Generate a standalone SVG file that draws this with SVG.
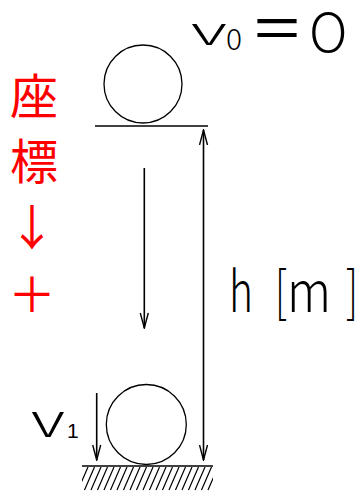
<svg xmlns="http://www.w3.org/2000/svg" width="355" height="494" viewBox="0 0 355 494">
<defs>
<style>
.ln{stroke:#000;stroke-width:1.6;fill:none}
.ci{stroke:#000;stroke-width:1.3;fill:none}
.tx{font-family:"Noto Sans CJK JP","Noto Sans",sans-serif;fill:#000}
.lt{font-family:"Noto Sans CJK JP","Noto Sans",sans-serif;font-weight:300;fill:#000}
.rd{font-family:"Noto Sans CJK JP","Noto Sans",sans-serif;fill:#ff0000}
.ht{stroke:#000;stroke-width:1.2}
</style>
<marker id="ah" viewBox="-16 -5 17 10" refX="0" refY="0" markerWidth="17" markerHeight="10" markerUnits="userSpaceOnUse" orient="auto-start-reverse">
<path d="M-15,-4 L0,0 L-15,4" fill="none" stroke="#000" stroke-width="1.4"/>
</marker>
<clipPath id="gc"><rect x="82" y="467" width="131" height="24"/></clipPath>
</defs>
<rect width="355" height="494" fill="#fff"/>
<g id="top-ball">
<circle class="ci" cx="143" cy="84" r="39"/>
<line class="ln" x1="95" y1="126" x2="208" y2="126" stroke-width="2"/>
</g>
<g id="bottom-ball">
<circle class="ci" cx="146.3" cy="424.5" r="40"/>
</g>
<g id="ground">
<line class="ln" x1="82" y1="466" x2="213" y2="466" stroke-width="2.2"/>
<g clip-path="url(#gc)" class="ht">
<path d="M78,490 L88,467 M84.5,490 L94.5,467 M91,490 L101,467 M97.5,490 L107.5,467 M104,490 L114,467 M110.5,490 L120.5,467 M117,490 L127,467 M123.5,490 L133.5,467 M130,490 L140,467 M136.5,490 L146.5,467 M143,490 L153,467 M149.5,490 L159.5,467 M156,490 L166,467 M162.5,490 L172.5,467 M169,490 L179,467 M175.5,490 L185.5,467 M182,490 L192,467 M188.5,490 L198.5,467 M195,490 L205,467 M201.5,490 L211.5,467 M208,490 L218,467"/>
</g>
</g>
<g id="connectors">
<line class="ln" x1="144.3" y1="168" x2="144.3" y2="328" marker-end="url(#ah)"/>
<line class="ln" x1="203.5" y1="130" x2="203.5" y2="460" marker-start="url(#ah)" marker-end="url(#ah)"/>
<line class="ln" x1="96.7" y1="393" x2="96.7" y2="460" marker-end="url(#ah)"/>
</g>
<g id="label-v0">
<text class="lt" x="191" y="45" font-size="40" textLength="36" lengthAdjust="spacingAndGlyphs">v</text>
<text class="lt" x="226" y="50" font-size="30">0</text>
<text class="tx" x="250" y="51" font-size="60" textLength="54" lengthAdjust="spacingAndGlyphs">＝</text>
<text class="lt" x="309" y="52" font-size="53">O</text>
</g>
<g id="label-h">
<text class="lt" x="229" y="312" font-size="56" textLength="24" lengthAdjust="spacingAndGlyphs">h</text>
<text class="lt" x="275" y="312" font-size="56" textLength="12" lengthAdjust="spacingAndGlyphs">[</text>
<text class="lt" x="287" y="312" font-size="56" textLength="44" lengthAdjust="spacingAndGlyphs">m</text>
<text class="lt" x="346" y="312" font-size="56" textLength="12" lengthAdjust="spacingAndGlyphs">]</text>
</g>
<g id="label-v1">
<text class="lt" x="31" y="437" font-size="46" textLength="34" lengthAdjust="spacingAndGlyphs">v</text>
<text x="67" y="438" font-size="21" font-family="Liberation Sans, sans-serif">1</text>
</g>
<g id="label-axis">
<text class="rd" x="10" y="114" font-size="48">座</text>
<text class="rd" x="10" y="179" font-size="48">標</text>
<text class="rd" x="32" y="245" font-size="48" text-anchor="middle">↓</text>
<text class="rd" x="32" y="312" font-size="48" text-anchor="middle">＋</text>
</g>
</svg>
